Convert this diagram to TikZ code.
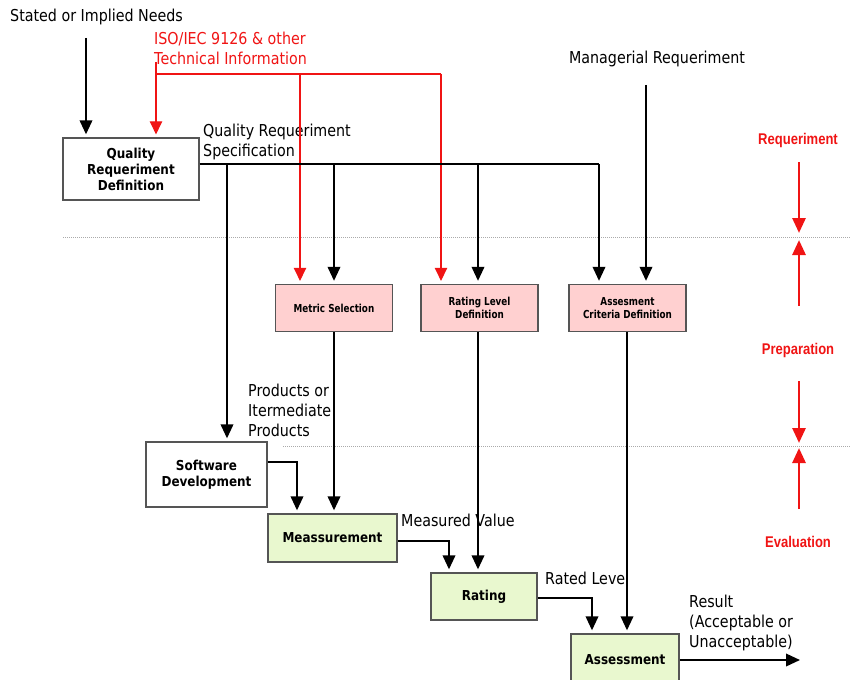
\documentclass[tikz,border=0pt]{standalone}
\usepackage{fontspec}
\setmainfont[FakeStretch=0.87]{DejaVu Sans}
\newfontfamily\phasefont[FakeStretch=0.84]{Liberation Sans}
\newfontfamily\boxfont[FakeStretch=0.875]{DejaVu Sans}
\newfontfamily\smallboxfont[FakeStretch=0.8]{DejaVu Sans}
\usetikzlibrary{arrows.meta}

\definecolor{boxline}{RGB}{85,85,85}
\definecolor{pinkfill}{RGB}{255,208,208}
\definecolor{greenfill}{RGB}{233,248,207}
\definecolor{mred}{RGB}{240,20,20}
\definecolor{sepgray}{RGB}{170,170,170}

\begin{document}
\begin{tikzpicture}[x=1pt,y=-1pt,
  txt/.style={inner sep=0pt, align=left, font=\fontsize{16.4}{20}\selectfont},
  redtxt/.style={txt, text=mred},
  basebox/.style={draw=boxline, line width=1.3pt, align=center, inner sep=0pt},
  wbox/.style={basebox, fill=white, font=\boxfont\bfseries\fontsize{13.7}{16}\selectfont},
  gbox/.style={basebox, fill=greenfill, font=\boxfont\bfseries\fontsize{13.7}{16}\selectfont},
  pbox/.style={basebox, fill=pinkfill, font=\smallboxfont\bfseries\fontsize{11}{13.5}\selectfont,
    minimum width=117pt, minimum height=47pt},
  flow/.style={line width=2pt, -{Triangle[width=12.5pt,length=14pt]}, shorten >=3pt},
  line/.style={line width=2pt},
  redline/.style={line width=1.1pt, draw=mred},
  redflow/.style={redline, -{Triangle[width=12.5pt,length=13pt]}, shorten >=3pt},
  phase/.style={inner sep=0pt, text=mred, font=\phasefont\bfseries\fontsize{15.5}{18}\selectfont},
  phaseflow/.style={line width=2.8pt, draw=mred, -{Triangle[width=13pt,length=15pt]}},
  sep/.style={draw=sepgray, line width=1pt, densely dotted}
]
\useasboundingbox (0,0) rectangle (850,679);

% phase separators
\coordinate (s1a) at (63,237);  \coordinate (s1b) at (850,237);
\coordinate (s2a) at (283,446); \coordinate (s2b) at (850,446);
\draw[sep] (s1a) -- (s1b);
\draw[sep] (s2a) -- (s2b);

% process boxes
\node[wbox, minimum width=136pt, minimum height=62pt] (qrd) at (131,169)
  {Quality\\Requeriment\\Definition};
\node[pbox] (ms)  at (334,308)   {Metric Selection};
\node[pbox] (rld) at (479.5,308) {Rating Level\\Definition};
\node[pbox] (acd) at (627.5,308) {Assesment\\Criteria Definition};
\node[wbox, minimum width=121pt, minimum height=65pt] (sd) at (206.5,474.5)
  {Software\\Development};
\node[gbox, minimum width=129pt, minimum height=48pt] (meas) at (332.5,538) {Meassurement};
\node[gbox, minimum width=106pt, minimum height=47pt] (rat) at (484,596.5) {Rating};
\node[gbox, minimum width=108pt, minimum height=52pt] (asm) at (625,660) {Assessment};

% labels
\node[txt, anchor=west] (needs) at (10,17) {Stated or Implied Needs};
\node[redtxt, anchor=west] (iso) at (154,48) {ISO/IEC 9126 \& other\\Technical Information};
\node[txt, anchor=west] (qrs) at (203,142) {Quality Requeriment\\Specification};
\node[txt] (mgr) at (657,59) {Managerial Requeriment};
\node[txt, anchor=west] (prod) at (248,410) {Products or\\Itermediate\\Products};
\node[txt, anchor=west] (mval) at (401,520) {Measured Value};
\node[txt, anchor=west] (rlev) at (545,578) {Rated Leve};
\node[txt, anchor=west] (res) at (689,623) {Result\\(Acceptable or\\Unacceptable)};

% needs into the definition
\coordinate (needsout) at (86,38);
\draw[flow] (needsout) -- (needsout |- qrd.north);

% technical information (red)
\coordinate (isoout) at (156,62);
\coordinate (r1) at (300,74);
\coordinate (r2) at (441,74);
\draw[redflow] (isoout) -- (isoout |- qrd.north);
\draw[redline] (isoout |- r1) -- (r2);
\draw[redflow] (r1) -- (r1 |- ms.north);
\draw[redflow] (r2) -- (r2 |- rld.north);

% quality requirement specification bus
\coordinate (bus) at (599,164);
\coordinate (b1) at (227,164);
\coordinate (b2) at (334,164);
\coordinate (b3) at (478,164);
\draw[line] (qrd.east |- bus) -- (bus);
\draw[flow] (bus) -- (bus |- acd.north);
\draw[flow] (b1) -- (b1 |- sd.north);
\draw[flow] (b2) -- (b2 |- ms.north);
\draw[flow] (b3) -- (b3 |- rld.north);

% managerial requirement
\coordinate (mgrout) at (646,85);
\draw[flow] (mgrout) -- (mgrout |- acd.north);

% preparation outputs into evaluation
\draw[flow] (ms.south) -- (ms.south |- meas.north);
\draw[flow] (b3 |- rld.south) -- (b3 |- rat.north);
\coordinate (acdx) at (627,332);
\draw[flow] (acdx) -- (acdx |- asm.north);

% evaluation chain
\coordinate (c1) at (297,462);
\coordinate (c2) at (449,541);
\coordinate (c3) at (592,598);
\draw[flow] (c1 -| sd.east) -- (c1) -- (c1 |- meas.north);
\draw[flow] (c2 -| meas.east) -- (c2) -- (c2 |- rat.north);
\draw[flow] (c3 -| rat.east) -- (c3) -- (c3 |- asm.north);
\coordinate (resend) at (800,660);
\draw[line, -{Triangle[width=12.5pt,length=14pt]}] (asm.east |- resend) -- (resend);

% phases
\node[phase] (preq)  at (798,140) {Requeriment};
\node[phase] (pprep) at (798,350) {Preparation};
\node[phase] (peval) at (798,542) {Evaluation};
\coordinate (l1) at (799,237);
\coordinate (l2) at (799,446);
\draw[phaseflow, shorten <=15pt, shorten >=4pt] (preq.south -| l1) -- (l1);
\draw[phaseflow, shorten <=37pt, shorten >=3pt] (pprep.north -| l1) -- (l1);
\draw[phaseflow, shorten <=24pt, shorten >=3pt] (pprep.south -| l2) -- (l2);
\draw[phaseflow, shorten <=27pt, shorten >=2pt] (peval.north -| l2) -- (l2);
\end{tikzpicture}
\end{document}
